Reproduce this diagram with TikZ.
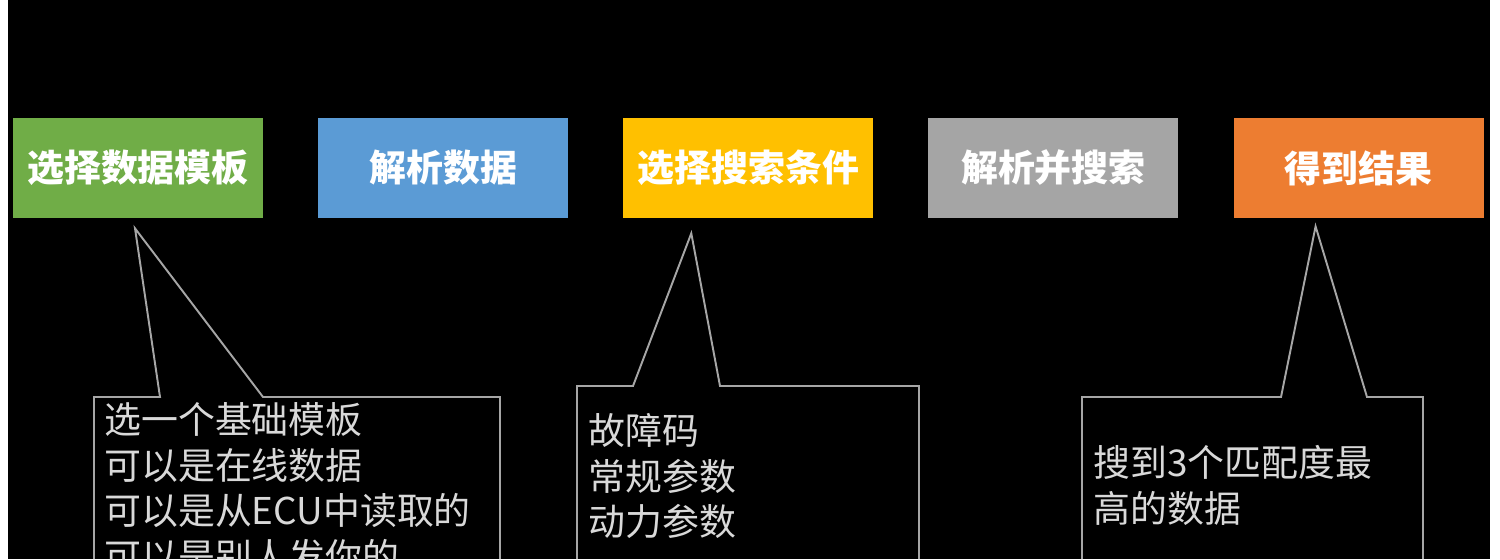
\documentclass[tikz,border=0pt]{standalone}
\usepackage{fontspec}
\setmainfont{Noto Sans CJK SC}
\usetikzlibrary{positioning}
\definecolor{StepGreen}{HTML}{70AD47}
\definecolor{StepBlue}{HTML}{5B9BD5}
\definecolor{StepGold}{HTML}{FFC000}
\definecolor{StepGray}{HTML}{A5A5A5}
\definecolor{StepOrange}{HTML}{ED7D31}
\definecolor{NoteText}{HTML}{D9D9D9}
\definecolor{NoteLine}{HTML}{A6A6A6}
\begin{document}
\begin{tikzpicture}[x=0.02cm,y=-0.02cm,
    stepbox/.style={fill=#1,minimum width=5cm,minimum height=2cm,inner sep=0pt,
      text=white,font=\fontsize{21}{25}\selectfont\bfseries},
    note/.style={anchor=north west,align=left,inner sep=0pt,text=NoteText,
      font=\fontsize{21}{26}\selectfont},
    bubble/.style={draw=NoteLine,line width=1.1pt,line join=miter}
  ]
    \useasboundingbox (0,0) rectangle (1500,559);
    \fill[white] (0,0) rectangle (1500,559);
    \fill[black] (8,0) rectangle (1490,559);
    % the five steps
    \node[stepbox=StepGreen] (s1) at (138,168) {选择数据模板};
    \node[stepbox=StepBlue,right=1.09cm of s1] (s2) {解析数据};
    \node[stepbox=StepGold,right=1.09cm of s2] (s3) {选择搜索条件};
    \node[stepbox=StepGray,right=1.09cm of s3] (s4) {解析并搜索};
    \node[stepbox=StepOrange,right=1.09cm of s4] (s5) {得到结果};
    % callout tips
    \coordinate (t1) at ([shift={(-3,10)}]s1.south);
    \coordinate (t2) at ([shift={(-57,15)}]s3.south);
    \coordinate (t3) at ([shift={(-43,8)}]s5.south);
    % callouts
    \draw[bubble] (94,559) -- (94,397) -- (160,397) -- (t1) -- (263,397) -- (500,397) -- (500,559);
    \draw[bubble] (577,559) -- (577,386) -- (633,386) -- (t2) -- (720,386) -- (919,386) -- (919,559);
    \draw[bubble] (1082,559) -- (1082,397) -- (1281,397) -- (t3) -- (1367,397) -- (1423,397) -- (1423,559);
    \node[note] (n1) at (104,402) {选一个基础模板\\可以是在线数据\\可以是从ECU中读取的\\可以是别人发你的};
    \node[note] (n2) at (588,413) {故障码\\常规参数\\动力参数};
    \node[note] (n3) at (1093,445) {搜到3个匹配度最\\高的数据};
  \end{tikzpicture}
\end{document}
